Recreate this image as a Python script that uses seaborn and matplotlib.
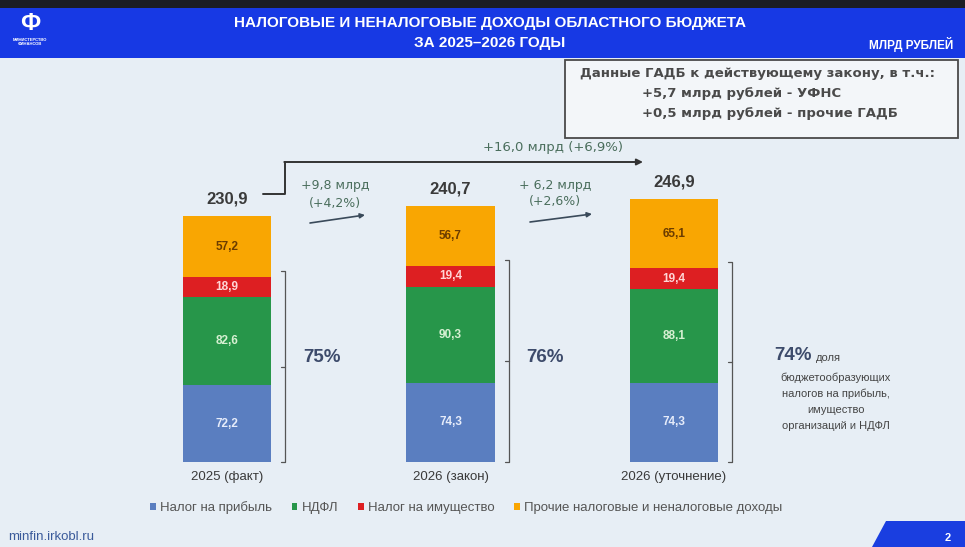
import matplotlib
matplotlib.use("Agg")
import matplotlib.pyplot as plt
import seaborn as sns
import numpy as np
from matplotlib.patches import Rectangle, Polygon, Patch
from matplotlib.transforms import Affine2D

# ---- data ----
categories = ["2025 (факт)", "2026 (закон)", "2026 (уточнение)"]
profit_tax = [72.2, 74.3, 74.3]      # Налог на прибыль
ndfl = [82.6, 90.3, 88.1]            # НДФЛ
property_tax = [18.9, 19.4, 19.4]    # Налог на имущество
other_income = [57.2, 56.7, 65.1]    # Прочие налоговые и неналоговые доходы
totals_text = ["230,9", "240,7", "246,9"]
share_text = ["75%", "76%", "74%"]
change_text = [["+9,8 млрд", "(+4,2%)"], ["+ 6,2 млрд", "(+2,6%)"]]
total_change_text = "+16,0 млрд (+6,9%)"
series_names = ["Налог на прибыль", "НДФЛ", "Налог на имущество",
                "Прочие налоговые и неналоговые доходы"]

colors = ["#5a7ec0", "#27964a", "#dd1f22", "#f9a602"]
label_colors = ["#e6ecfa", "#d6f0d2", "#ffd6d6", "#6b3c00"]

sns.set_theme(style="white")
plt.rcParams['font.family'] = ['Liberation Sans', 'DejaVu Sans']

W, H = 965, 547
fig = plt.figure(figsize=(W / 100, H / 100), dpi=100)
fig.patch.set_facecolor("#e7eef5")
px = Affine2D().scale(1 / W, -1 / H).translate(0, 1) + fig.transFigure

ax = fig.add_axes([0, 0, 1, 1])
ax.set_facecolor("none")

segments = [profit_tax, ndfl, property_tax, other_income]
cum = np.cumsum(np.array(segments), axis=0)
bar_w = 0.394
for k in range(3, -1, -1):
    sns.barplot(x=categories, y=cum[k], order=categories, color=colors[k],
                saturation=1, width=bar_w, errorbar=None, linewidth=0, ax=ax)

# axes mapping: px x -> data, px y -> data
unit_x = 223.5
unit_y = 1.065
ax.set_xlim(-227 / unit_x, (W - 227) / unit_x)
ax.set_ylim(-(H - 462) / unit_y, 462 / unit_y)
ax.axis("off")

def dy(pixels):
    return pixels / unit_y

def dx(pixels):
    return pixels / unit_x

# segment value labels
for k in range(4):
    for i in range(3):
        base = cum[k][i] - segments[k][i]
        ax.text(i, base + segments[k][i] / 2, f"{segments[k][i]:.1f}".replace(".", ","),
                ha="center", va="center", fontsize=8.5, fontweight="bold",
                color=label_colors[k])

# totals
for i in range(3):
    ax.text(i, cum[3][i] + dy(17), totals_text[i], ha="center", va="center",
            fontsize=12, fontweight="bold", color="#3a3a3a")

# category labels
for i in range(3):
    ax.text(i, -dy(15), categories[i], ha="center", va="center",
            fontsize=9.5, color="#3a3a3a")

# brackets
for i in range(3):
    bx = i + bar_w / 2 + dx(14)
    top = cum[2][i] + dy(6)
    ax.plot([bx - dx(4), bx, bx, bx - dx(4)], [top, top, 0, 0], color="#555555", lw=0.9)
    ax.plot([bx, bx - dx(4)], [top / 2, top / 2], color="#555555", lw=0.9)

# share labels
ax.text(dx(322 - 227), dy(462 - 357), share_text[0], ha="center", va="center",
        fontsize=13.5, fontweight="bold", color="#3d4b6b")
ax.text(dx(545 - 227), dy(462 - 357), share_text[1], ha="center", va="center",
        fontsize=13.5, fontweight="bold", color="#3d4b6b")

# header band
fig.patches.append(Rectangle((0, 0), W, 8, transform=px, facecolor="#1b1d24",
                             edgecolor="none", zorder=1))
fig.patches.append(Rectangle((0, 8), W, 50, transform=px, facecolor="#1739e4",
                             edgecolor="none", zorder=1))
fig.text(490, 23, "НАЛОГОВЫЕ И НЕНАЛОГОВЫЕ ДОХОДЫ ОБЛАСТНОГО БЮДЖЕТА", transform=px,
         ha="center", va="center", fontsize=11, fontweight="bold", color="white")
fig.text(490, 43, "ЗА 2025–2026 ГОДЫ", transform=px, ha="center", va="center",
         fontsize=11, fontweight="bold", color="white")
fig.text(953, 44, "МЛРД РУБЛЕЙ", transform=px, ha="right", va="center",
         fontsize=8.5, fontweight="bold", color="white")
# logo
fig.text(30, 24, "Ф", transform=px, ha="center", va="center", fontsize=17,
         fontweight="bold", color="white")
fig.text(30, 42, "МИНИСТЕРСТВО\nФИНАНСОВ", transform=px, ha="center", va="center",
         fontsize=3, fontweight="bold", color="white", linespacing=1.2)

# info box
fig.patches.append(Rectangle((565, 60), 393, 78, transform=px, facecolor="#f3f6f9",
                             edgecolor="#4a4a4a", lw=1.3, zorder=1))
fig.text(757, 74, "Данные ГАДБ к действующему закону, в т.ч.:", transform=px,
         ha="center", va="center", fontsize=9.5, fontweight="bold", color="#4a4a4a",
         family=["DejaVu Sans"])
fig.text(642, 94, "+5,7 млрд рублей - УФНС", transform=px, ha="left", va="center",
         fontsize=9.5, fontweight="bold", color="#4a4a4a", family=["DejaVu Sans"])
fig.text(642, 114, "+0,5 млрд рублей - прочие ГАДБ", transform=px, ha="left",
         va="center", fontsize=9.5, fontweight="bold", color="#4a4a4a",
         family=["DejaVu Sans"])

# total change line with arrow
line_c = "#333333"
fig.lines.append(plt.Line2D([263, 285, 285], [194, 194, 162], transform=px,
                            color=line_c, lw=1.4))
ax.annotate("", xy=(643, 162), xytext=(284.3, 162), xycoords=px, textcoords=px,
            arrowprops=dict(arrowstyle="-|>", color=line_c, lw=1.4,
                            mutation_scale=9, shrinkA=0, shrinkB=0))
fig.text(553, 148, total_change_text, transform=px, ha="center", va="center",
         fontsize=9.5, color="#4a6e5c", family=["DejaVu Sans"])

# pairwise changes
chg_pos = [(335, 186, 203, (310, 223), (365, 215)),
           (555, 186, 202, (530, 222), (592, 214))]
for (cx, y1, y2, a0, a1), txt in zip(chg_pos, change_text):
    fig.text(cx, y1, txt[0], transform=px, ha="center", va="center",
             fontsize=9, color="#4a6e5c", family=["DejaVu Sans"])
    fig.text(cx, y2, txt[1], transform=px, ha="center", va="center",
             fontsize=9, color="#4a6e5c", family=["DejaVu Sans"])
    ax.annotate("", xy=a1, xytext=a0, xycoords=px, textcoords=px,
                arrowprops=dict(arrowstyle="-|>", color="#3a4a5a", lw=1.2,
                                mutation_scale=7, shrinkA=0, shrinkB=0))

# 74% block
fig.text(812, 356, share_text[2], transform=px, ha="right", va="center",
         fontsize=13.5, fontweight="bold", color="#3d4b6b")
fig.text(816, 358, "доля", transform=px, ha="left", va="center",
         fontsize=8, color="#444444")
for yy, t in zip([378, 394, 410, 426],
                 ["бюджетообразующих", "налогов на прибыль,", "имущество",
                  "организаций и НДФЛ"]):
    fig.text(836, yy, t, transform=px, ha="center", va="center", fontsize=8,
             color="#444444")

# legend
handles = [Patch(facecolor=c, edgecolor="none") for c in colors]
leg = fig.legend(handles, series_names, loc="center",
                 bbox_to_anchor=(466 / W, 1 - 508 / H), ncol=4, frameon=False,
                 fontsize=9.5, handlelength=0.45, handleheight=0.45,
                 handletextpad=0.3, columnspacing=1.5)
for t in leg.get_texts():
    t.set_color("#555555")

# footer
fig.text(8, 537, "minfin.irkobl.ru", transform=px, ha="left", va="center",
         fontsize=9.5, color="#3a5a9a")
fig.patches.append(Polygon([(872, 547), (886, 521), (965, 521), (965, 547)],
                           closed=True, transform=px, facecolor="#1a3ee0",
                           edgecolor="none", zorder=1))
fig.text(948, 538, "2", transform=px, ha="center", va="center", fontsize=8,
         fontweight="bold", color="white")

fig.savefig("out.png", dpi=100)
